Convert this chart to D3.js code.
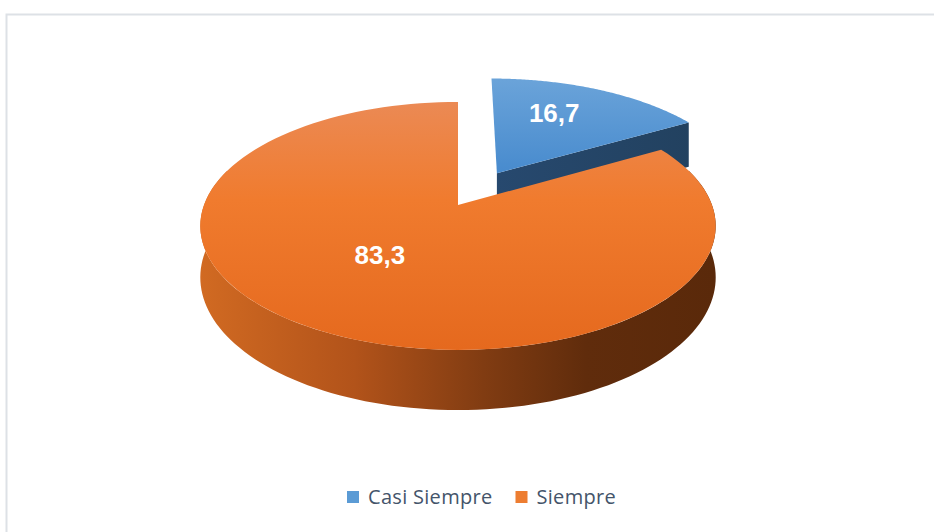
<!DOCTYPE html>
<html>
<head>
<meta charset="utf-8">
<script src="https://cdn.jsdelivr.net/npm/d3@7"></script>
<style>
  body { margin: 0; background: #fff; }
  svg { display: block; }
</style>
</head>
<body>
<svg width="934" height="532"></svg>
<script>
// data
const categories = ["Casi Siempre", "Siempre"];
const values = [16.7, 83.3];
const labels = ["16,7", "83,3"];

let svg = d3.select("svg"),
    width = +svg.attr("width"),
    height = +svg.attr("height");

// kader van de grafiek
svg.append("rect")
    .attr("x", 6.5).attr("y", 14.5)
    .attr("width", width + 20).attr("height", height + 20)
    .attr("fill", "none")
    .attr("stroke", "#dde1e6")
    .attr("stroke-width", 2);

// 3d pie instellingen (perspectief)
const cx = 458, cy = 205,
    rx = 254, ry = 120.4,
    k = 0.169,        // perspectief factor
    depth = 50,       // dikte van de taart
    explode = [0.32, 0],
    labelR = 0.55;

function proj(u, v, h) {
    let s = 1 / (1 - k * v);
    return [cx + rx * u * s, cy + (ry * v + depth * h) * s];
}

let pie = d3.pie().sort(null).startAngle(0).endAngle(2 * Math.PI);
let arcs = pie(values);

let defs = svg.append("defs");

function linGrad(id, x1, y1, x2, y2, stops) {
    let g = defs.append("linearGradient").attr("id", id)
        .attr("gradientUnits", "userSpaceOnUse")
        .attr("x1", x1).attr("y1", y1).attr("x2", x2).attr("y2", y2);
    stops.forEach(s => g.append("stop").attr("offset", s[0]).attr("stop-color", s[1]));
}

linGrad("topBlue", 0, 80, 0, 180, [[0, "#6aa3d9"], [1, "#4589cd"]]);
linGrad("topOrange", 0, 100, 0, 350, [[0, "#eb8a55"], [0.4, "#f07b2e"], [1, "#e5691e"]]);
linGrad("sideOrange", 200, 0, 715, 0, [[0, "#d16a22"], [0.3, "#b2531a"], [0.55, "#813c12"], [0.75, "#602c0c"], [1, "#5a290a"]]);
linGrad("sideBlue", 490, 0, 700, 0, [[0, "#27496f"], [1, "#22415f"]]);

const topFill = ["url(#topBlue)", "url(#topOrange)"];
const sideFill = ["url(#sideBlue)", "url(#sideOrange)"];
const legendColor = ["#5b9bd5", "#ed7d31"];

let line = d3.line();
const N = 120;

function rimPoints(a0, a1, o, h) {
    let pts = [];
    for (let i = 0; i <= N; i++) {
        let a = a0 + (a1 - a0) * i / N;
        pts.push(proj(o[0] + Math.sin(a), o[1] - Math.cos(a), h));
    }
    return pts;
}

let slices = arcs.map(function (d, i) {
    let mid = (d.startAngle + d.endAngle) / 2;
    let o = [explode[i] * Math.sin(mid), -explode[i] * Math.cos(mid)];
    return { d: d, i: i, mid: mid, o: o };
});
// achterste stuk eerst tekenen
slices.sort((a, b) => (a.o[1] - Math.cos(a.mid) * 0.5) - (b.o[1] - Math.cos(b.mid) * 0.5));

let g = svg.append("g");

slices.forEach(function (s) {
    let d = s.d, o = s.o, i = s.i;
    let a0 = d.startAngle, a1 = d.endAngle;

    // buitenwand (alleen voorkant)
    let w0 = Math.max(a0, Math.PI / 2 - 0.3), w1 = Math.min(a1, 3 * Math.PI / 2 + 0.3);
    if (w1 > w0) {
        let top = rimPoints(w0, w1, o, 0), bot = rimPoints(w0, w1, o, 1).reverse();
        g.append("path").attr("d", line(top.concat(bot)) + "Z").attr("fill", sideFill[i]);
    }

    // zijvlakken
    [[a0, -Math.sin(a0)], [a1, Math.sin(a1)]].forEach(function (f) {
        if (f[1] <= 0.01) return;
        let a = f[0];
        let p = [proj(o[0], o[1], 0), proj(o[0] + Math.sin(a), o[1] - Math.cos(a), 0),
                 proj(o[0] + Math.sin(a), o[1] - Math.cos(a), 1), proj(o[0], o[1], 1)];
        g.append("path").attr("d", line(p) + "Z").attr("fill", sideFill[i]);
    });

    // bovenkant
    let topPts = [proj(o[0], o[1], 0)].concat(rimPoints(a0, a1, o, 0));
    g.append("path").attr("d", line(topPts) + "Z").attr("fill", topFill[i]);
});

// labels
slices.forEach(function (s) {
    let p = proj(s.o[0] + labelR * Math.sin(s.mid), s.o[1] - labelR * Math.cos(s.mid), 0);
    svg.append("text")
        .attr("x", p[0] - 2).attr("y", p[1] - 12)
        .attr("dy", "0.35em")
        .attr("text-anchor", "middle")
        .attr("fill", "#fff")
        .attr("font-family", "'Liberation Sans', Arial, sans-serif")
        .attr("font-weight", "bold")
        .attr("font-size", 26)
        .text(labels[s.i]);
});

// legenda
let legend = svg.append("g").attr("transform", "translate(347,497)");
let lx = 0;
categories.forEach(function (c, i) {
    let item = legend.append("g").attr("transform", "translate(" + lx + ",0)");
    item.append("rect").attr("x", 0).attr("y", -6).attr("width", 12).attr("height", 12)
        .attr("fill", legendColor[i]);
    let t = item.append("text").attr("x", 21).attr("dy", "0.35em")
        .attr("fill", "#44546a")
        .attr("font-family", "'Open Sans', sans-serif")
        .attr("font-size", 20)
        .attr("letter-spacing", 0.3)
        .text(c);
    lx += 21 + t.node().getComputedTextLength() + 23;
});
</script>
</body>
</html>
